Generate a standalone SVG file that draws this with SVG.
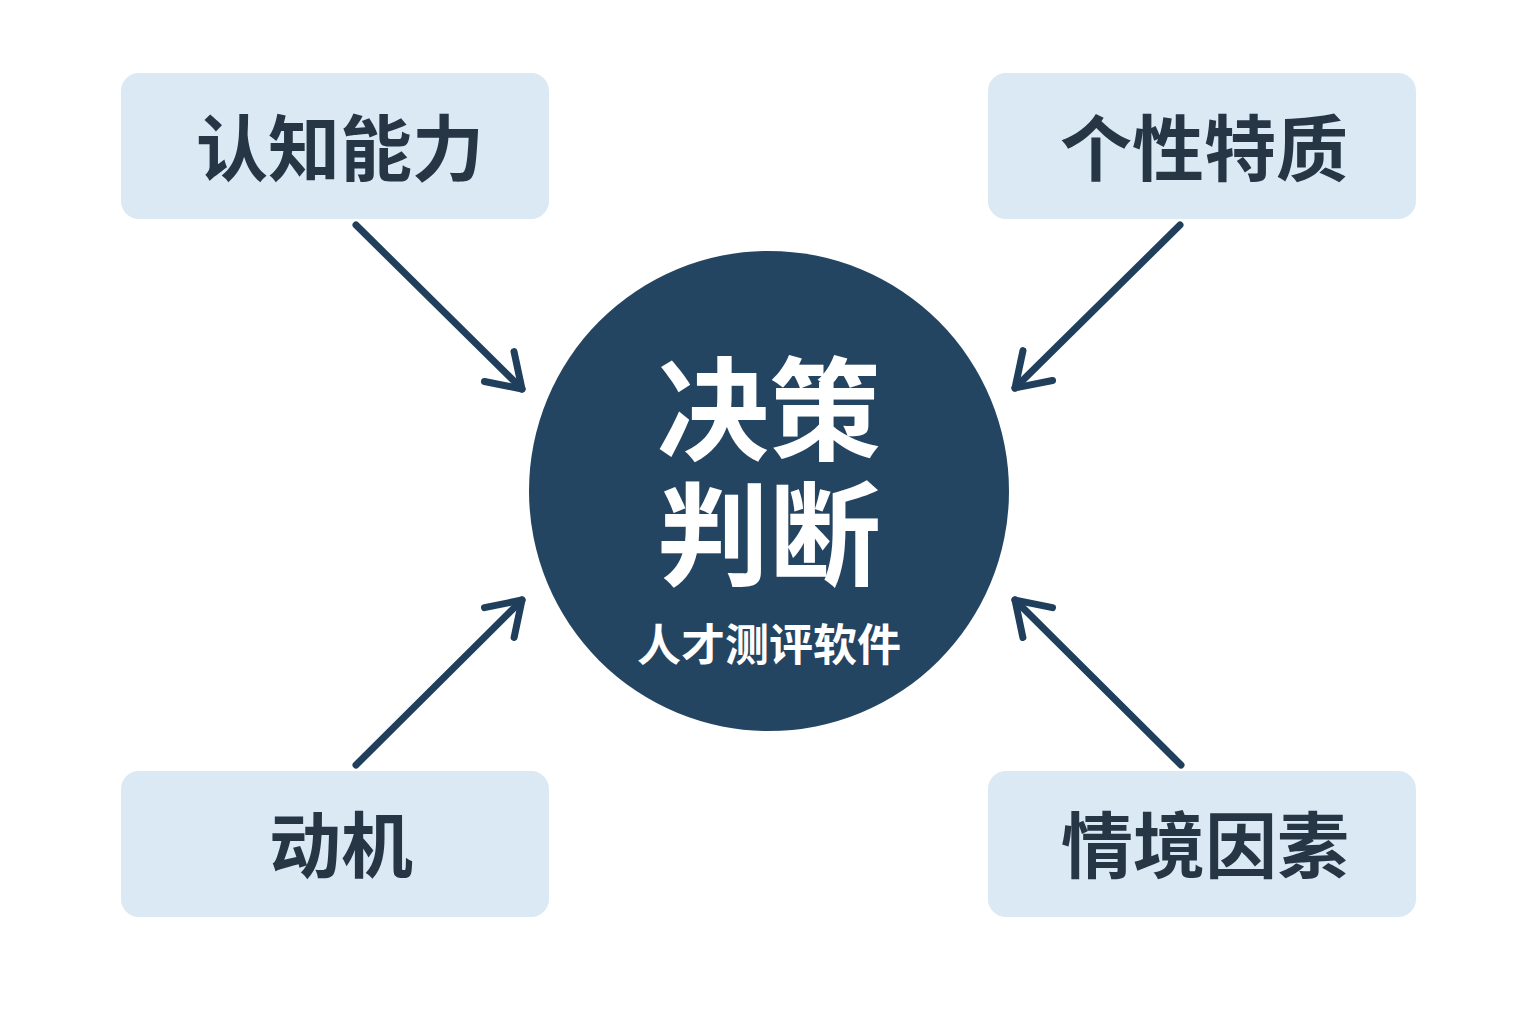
<svg xmlns="http://www.w3.org/2000/svg" width="1536" height="1024" viewBox="0 0 1536 1024">
<style>
.box{fill:#dae9f4;}
.lbl{font-family:"Noto Sans CJK SC","Noto Sans",sans-serif;font-weight:700;font-size:72px;fill:#263645;text-anchor:middle;dominant-baseline:central;}
.ctr{font-family:"Noto Sans CJK SC","Noto Sans",sans-serif;font-weight:700;fill:#ffffff;text-anchor:middle;dominant-baseline:central;}
.conn{stroke:#1f3f5c;stroke-width:7;stroke-linecap:round;fill:none;marker-end:url(#chev);}
</style>
<defs>
<marker id="chev" markerUnits="userSpaceOnUse" refX="0" refY="0" markerWidth="60" markerHeight="60" orient="auto" overflow="visible">
<path d="M-32,-21 L0,0 L-32,21" fill="none" stroke="#1f3f5c" stroke-width="7" stroke-linecap="round" stroke-linejoin="round"/>
</marker>
</defs>
<rect width="1536" height="1024" fill="#ffffff"/>
<g id="connectors">
<line class="conn" x1="356" y1="225" x2="522" y2="389"/>
<line class="conn" x1="1180" y1="225" x2="1015" y2="388"/>
<line class="conn" x1="356" y1="765" x2="522" y2="600"/>
<line class="conn" x1="1181" y1="765" x2="1015" y2="600"/>
</g>
<g id="node-center">
<circle cx="769" cy="491" r="240" fill="#244562"/>
<text class="ctr" x="769" y="403" font-size="112">决策</text>
<text class="ctr" x="769" y="528" font-size="112">判断</text>
<text class="ctr" x="769" y="642" font-size="44">人才测评软件</text>
</g>
<g id="node-cognitive">
<rect class="box" x="121" y="73" width="428" height="146" rx="18"/>
<text class="lbl" x="340" y="143">认知能力</text>
</g>
<g id="node-personality">
<rect class="box" x="988" y="73" width="428" height="146" rx="18"/>
<text class="lbl" x="1204" y="143">个性特质</text>
</g>
<g id="node-motivation">
<rect class="box" x="121" y="771" width="428" height="146" rx="18"/>
<text class="lbl" x="341" y="840">动机</text>
</g>
<g id="node-situation">
<rect class="box" x="988" y="771" width="428" height="146" rx="18"/>
<text class="lbl" x="1205" y="840">情境因素</text>
</g>
</svg>
